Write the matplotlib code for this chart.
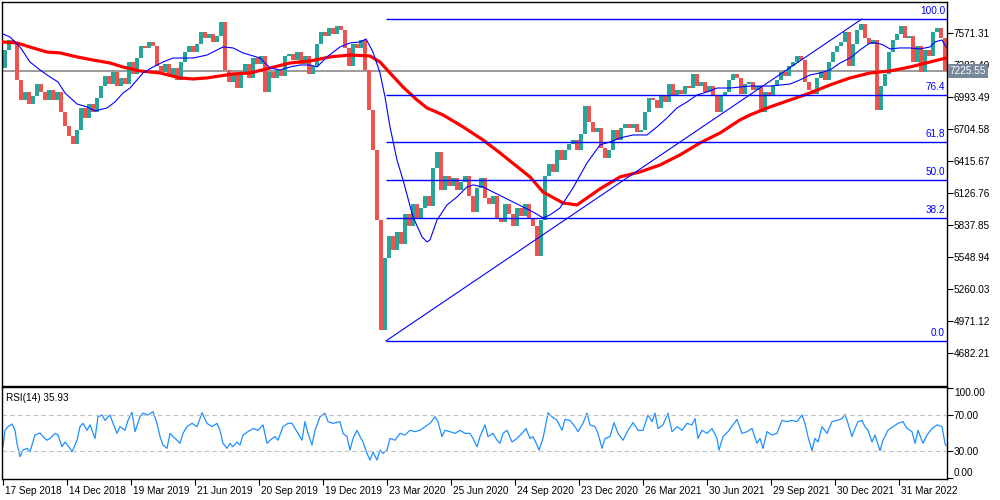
import numpy as np
import matplotlib
matplotlib.use("Agg")
import matplotlib.pyplot as plt
import matplotlib.transforms as mtransforms

# --- price data: one candle per 4 sessions (close of each block) ---
step = 4
first_open = 7255
closes = [
    7418, 7508, 7472, 7147, 6966, 7038, 6930, 7002, 7110, 7038,
    6966, 7056, 6966, 7038, 6858, 6731, 6641, 6569, 6695, 6894,
    6803, 6930, 6858, 6984, 7092, 7183, 7110, 7219, 7092, 7165,
    7110, 7309, 7201, 7345, 7454, 7436, 7490, 7454, 7273, 7219,
    7291, 7183, 7255, 7147, 7309, 7399, 7454, 7399, 7472, 7580,
    7526, 7562, 7490, 7544, 7670, 7237, 7129, 7201, 7074, 7219,
    7291, 7165, 7345, 7291, 7363, 7038, 7219, 7165, 7237, 7183,
    7363, 7381, 7327, 7399, 7291, 7363, 7201, 7273, 7472, 7580,
    7544, 7616, 7562, 7634, 7598, 7436, 7273, 7472, 7436, 7508,
    7237, 6876, 6515, 5882, 4889, 5539, 5738, 5612, 5774, 5666,
    5937, 5828, 6027, 5901, 5991, 6099, 6009, 6352, 6496, 6153,
    6280, 6190, 6262, 6153, 6226, 6280, 6099, 5955, 6172, 6262,
    6081, 6027, 6099, 5901, 5864, 6027, 5937, 5828, 5991, 5919,
    6027, 5901, 5828, 5557, 5882, 6280, 6388, 6316, 6515, 6424,
    6515, 6569, 6605, 6515, 6659, 6912, 6767, 6677, 6713, 6533,
    6442, 6515, 6695, 6605, 6713, 6749, 6713, 6749, 6677, 6695,
    6858, 6984, 6966, 6894, 7002, 6948, 7110, 7002, 7056, 7020,
    7092, 7074, 7201, 7092, 7129, 7038, 7092, 7002, 6858, 7002,
    7038, 7147, 7201, 7165, 7020, 7110, 7129, 7056, 7092, 6858,
    7038, 7002, 7092, 7147, 7219, 7183, 7273, 7309, 7363, 7327,
    7129, 7056, 7020, 7165, 7219, 7147, 7309, 7399, 7454, 7490,
    7580, 7273, 7472, 7598, 7652, 7526, 7472, 7508, 6876, 7092,
    7201, 7399, 7508, 7562, 7634, 7526, 7544, 7309, 7454, 7219,
    7418, 7363, 7580, 7616, 7526, 7225.55,
]

# --- moving averages (bar index, value) ---
blue_ma_bar = [0, 7, 12, 17, 27, 37, 47, 55, 62, 74, 84, 92, 104, 112, 120, 127,
               134, 140, 150, 160, 170, 180, 190, 204, 214, 220, 230, 240, 247,
               257, 267, 277, 287, 297, 307, 314, 324, 337, 347, 357, 363, 370,
               377, 382, 387, 394, 400, 410, 419, 424, 427, 434, 444, 454, 464,
               470, 480, 490, 500, 510, 520, 530, 540, 547, 557, 570, 584, 597,
               607, 617, 630, 644, 654, 664, 674, 684, 694, 704, 714, 727, 737,
               747, 767, 787, 797, 807, 817, 827, 837, 847, 857, 867, 874, 880,
               887, 897, 907, 917, 927, 932, 939, 943]
blue_ma = [7562, 7535, 7490, 7445, 7309, 7237, 7174, 7129, 7029, 6930, 6903, 6867,
           6894, 6948, 7029, 7074, 7147, 7210, 7264, 7309, 7345, 7345, 7345, 7372,
           7418, 7445, 7436, 7391, 7372, 7345, 7255, 7237, 7264, 7282, 7282, 7264,
           7355, 7445, 7481, 7490, 7517, 7399, 7210, 6993, 6723, 6424, 6244, 5910,
           5729, 5684, 5702, 5882, 6018, 6090, 6181, 6199, 6181, 6135, 6090, 6045,
           6000, 5955, 5901, 5928, 5991, 6172, 6397, 6560, 6587, 6623, 6650, 6650,
           6723, 6804, 6894, 6948, 7011, 7038, 7074, 7074, 7083, 7092, 7092, 7110,
           7147, 7192, 7210, 7237, 7300, 7345, 7418, 7481, 7481, 7463, 7427, 7436,
           7436, 7427, 7445, 7490, 7508, 7445]

red_ma_bar = [0, 14, 30, 44, 57, 74, 90, 107, 120, 137, 157, 177, 190, 204, 217,
              230, 247, 267, 287, 307, 327, 347, 367, 377, 387, 400, 414, 424,
              440, 460, 480, 497, 527, 540, 560, 574, 584, 597, 617, 637, 657,
              677, 697, 717, 737, 747, 767, 787, 807, 827, 847, 867, 887, 907,
              927, 943]
red_ma = [7490, 7481, 7436, 7399, 7391, 7355, 7327, 7300, 7264, 7228, 7210, 7165,
          7156, 7165, 7183, 7201, 7210, 7255, 7300, 7318, 7355, 7372, 7363, 7309,
          7210, 7083, 6966, 6894, 6831, 6723, 6605, 6488, 6271, 6135, 6036, 6018,
          6081, 6163, 6271, 6316, 6379, 6470, 6578, 6668, 6786, 6831, 6903, 6966,
          7029, 7102, 7165, 7210, 7228, 7264, 7309, 7345]

# --- RSI(14) ---
rsi_bar = [0, 2, 5, 9, 12, 14, 17, 20, 24, 27, 29, 32, 37, 40, 44, 47, 52, 55, 59,
           62, 67, 69, 74, 77, 80, 84, 87, 92, 95, 99, 102, 107, 110, 114, 117, 122,
           125, 129, 132, 137, 140, 145, 150, 154, 157, 160, 164, 167, 170, 174, 177,
           180, 184, 189, 194, 197, 199, 204, 209, 214, 217, 220, 224, 227, 230, 234,
           237, 240, 245, 250, 255, 260, 264, 267, 272, 275, 280, 285, 289, 292, 295,
           299, 302, 305, 309, 312, 317, 322, 325, 330, 337, 340, 344, 347, 350, 354,
           357, 360, 364, 367, 370, 374, 377, 380, 384, 387, 392, 397, 402, 407, 412,
           417, 422, 427, 432, 435, 439, 442, 447, 452, 457, 462, 467, 470, 474, 477,
           482, 485, 490, 494, 497, 500, 504, 509, 514, 519, 523, 527, 530, 534, 536,
           540, 542, 545, 549, 554, 559, 562, 567, 572, 575, 580, 584, 587, 592, 595,
           599, 602, 607, 611, 615, 620, 625, 630, 635, 640, 645, 649, 652, 655, 660,
           665, 669, 674, 679, 684, 689, 692, 695, 699, 704, 709, 714, 716, 720, 725,
           730, 734, 739, 744, 749, 754, 757, 760, 764, 769, 774, 779, 784, 789, 794,
           799, 802, 805, 809, 812, 815, 819, 824, 829, 834, 839, 842, 845, 849, 852,
           855, 859, 862, 865, 869, 872, 877, 880, 885, 890, 895, 900, 904, 909, 912,
           915, 920, 924, 929, 934, 939, 942, 943]
rsi = [34.8, 53, 57, 60, 53, 38.5, 23.7, 31, 33, 29, 36.7, 47.8, 50, 46, 42, 44,
       49.6, 47.8, 34.8, 40, 33, 29, 42, 57, 60.7, 53, 59, 44, 68, 70, 64, 70, 60.7,
       49.6, 57, 53, 64, 73, 51.5, 68, 72, 70, 73.7, 60.7, 46, 36.7, 33, 49.6, 46, 42,
       38.5, 49.6, 57, 60.7, 57, 66, 72.5, 60.7, 57, 60.7, 53, 38.5, 33, 38.5, 34.8,
       40, 36.7, 47.8, 51.5, 55, 53, 59, 38.5, 42, 46, 42, 57, 60.7, 60.7, 55, 49.6,
       42, 62.6, 49.6, 36.7, 53, 68, 72, 62.6, 60.7, 62.6, 49.6, 46, 31, 44, 53, 46,
       40, 27.4, 20, 29, 20, 31, 27.4, 31, 44, 42, 49.6, 47.8, 53, 51.5, 53, 57, 60.7,
       68, 62.6, 46, 53, 51.5, 49.6, 53, 49.6, 49.6, 44, 34.8, 46, 59, 46, 49.6, 42,
       38.5, 49.6, 53, 40, 44, 49.6, 55, 44, 46, 36.7, 31, 44, 55, 72.5, 68, 64, 53,
       65, 64, 57, 51.5, 60.7, 72, 59, 57, 49.6, 33, 44, 46, 61.5, 49.6, 42, 53, 61.5,
       53, 53, 70, 62.6, 72, 55, 59, 72, 51.5, 57, 53, 60.7, 59, 66, 44, 53, 49.6, 55,
       44, 31, 46, 51.5, 59, 65, 49.6, 51.5, 55, 38.5, 44, 33, 51.5, 47.8, 49.6, 64,
       62.6, 64, 62.6, 70, 60.7, 46, 30.4, 44, 40, 57, 49.6, 62.6, 64, 66, 70.7, 60.7,
       46, 55, 62.6, 64, 57, 53, 40, 47.8, 30.4, 42, 53, 57, 60.7, 62.6, 55, 51.5,
       38.5, 53, 38.5, 47.8, 55, 59, 57, 38.5, 35.93]

# --- fibonacci retracement ---
fib_start_bar, fib_end_bar = 383, 859
fib_low, fib_high = 4790, 7698
fib_levels = [0.0, 38.2, 50.0, 61.8, 76.4, 100.0]

last_price = 7225.55
price_ticks = [7571.31, 7282.40, 6993.49, 6704.58, 6415.67, 6126.76,
               5837.85, 5548.94, 5260.03, 4971.12, 4682.21]
rsi_ticks = [100, 70, 30, 0]
date_labels = ["17 Sep 2018", "14 Dec 2018", "19 Mar 2019", "21 Jun 2019",
               "20 Sep 2019", "19 Dec 2019", "23 Mar 2020", "25 Jun 2020",
               "24 Sep 2020", "23 Dec 2020", "26 Mar 2021", "30 Jun 2021",
               "29 Sep 2021", "30 Dec 2021", "31 Mar 2022"]
date_ticks = [64 * i for i in range(len(date_labels))]

UP, DOWN = "#26A69A", "#EF5350"
FS = 7.2
plt.rcParams["font.family"] = ["Liberation Sans", "DejaVu Sans"]

fig = plt.figure(figsize=(10, 5), dpi=100)
ax = fig.add_axes([0.002, 0.229, 0.945, 0.767])
ax2 = fig.add_axes([0.002, 0.042, 0.945, 0.184])

# candles
closes = np.array(closes, dtype=float)
opens = np.concatenate([[first_open], closes[:-1]])
xc = np.arange(len(closes)) * step + step / 2 - 0.5
cols = [UP if c >= o else DOWN for o, c in zip(opens, closes)]
ax.bar(xc, closes - opens, bottom=opens, width=4.0, color=cols, linewidth=0, zorder=2)

ax.axhline(last_price, color="#808080", lw=1.1, zorder=1)
ax.plot(red_ma_bar, red_ma, color="#FF0000", lw=2.3, zorder=4)
ax.plot(blue_ma_bar, blue_ma, color="#0000FF", lw=0.8, zorder=5)

# fibonacci
ax.plot([fib_start_bar, fib_end_bar], [fib_low, fib_high], color="#0000FF", lw=0.8, zorder=5)
fib_tf = mtransforms.blended_transform_factory(ax.transAxes, ax.transData)
for lvl in fib_levels:
    p = fib_low + (fib_high - fib_low) * lvl / 100
    ax.hlines(p, fib_start_bar, 944, color="#0000FF", lw=1.0, zorder=5)
    ax.text(0.998, p + 25, f"{lvl:.1f}", color="#0000FF", fontsize=FS,
            ha="right", va="bottom", transform=fib_tf)

ax.set_xlim(-1, 944)
ax.set_ylim(4387, 7851)
ax.set_xticks([])
ax.yaxis.tick_right()
ax.set_yticks(price_ticks)
ax.set_yticklabels([f"{v:.2f}" for v in price_ticks])
ax.tick_params(axis="y", direction="out", length=4, width=0.8, labelsize=FS, pad=1)
ax.text(1.003, last_price, f"{last_price:.2f}", color="white", fontsize=FS,
        ha="left", va="center", transform=fib_tf, zorder=10,
        bbox=dict(boxstyle="square,pad=0.2", fc="#778899", ec="none"))

# RSI
ax2.plot(rsi_bar, rsi, color="#1E90FF", lw=0.9)
for lv in (70, 30):
    ax2.axhline(lv, color="#C0C0C0", lw=0.8, ls=(0, (4, 3)))
ax2.set_xlim(-1, 944)
ax2.set_ylim(-1, 101)
ax2.yaxis.tick_right()
ax2.set_yticks(rsi_ticks)
ax2.set_yticklabels([f"{v:.2f}" for v in rsi_ticks])
ax2.tick_params(axis="y", direction="out", length=4, width=0.8, labelsize=FS, pad=1)
lbls = ax2.get_yticklabels()
lbls[0].set_va("top")
lbls[-1].set_va("bottom")
ax2.text(0.004, 0.93, f"RSI(14) {rsi[-1]:.2f}", transform=ax2.transAxes,
         fontsize=FS, ha="left", va="top")
ax2.set_xticks(date_ticks)
ax2.set_xticklabels(date_labels)
ax2.tick_params(axis="x", direction="out", length=4, width=0.8, labelsize=FS, pad=1)
shift = mtransforms.ScaledTranslation(2 / 100, 0, fig.dpi_scale_trans)
for t in ax2.get_xticklabels():
    t.set_ha("left")
    t.set_transform(t.get_transform() + shift)

for a in (ax, ax2):
    for s in a.spines.values():
        s.set_color("black")
        s.set_linewidth(1.0)

fig.savefig("out.png", dpi=100)
